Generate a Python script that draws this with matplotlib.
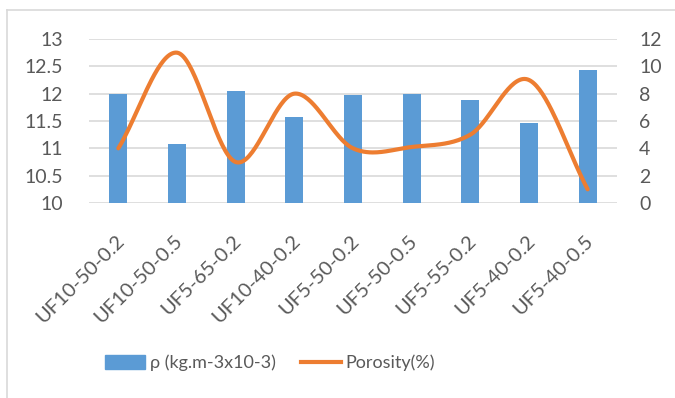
import numpy as np
import matplotlib.pyplot as plt
from matplotlib.lines import Line2D
from matplotlib.patches import Patch
from matplotlib.transforms import ScaledTranslation

plt.rcParams['font.family'] = ['Lato', 'DejaVu Sans']

# Data
samples = ['UF10-50-0.2', 'UF10-50-0.5', 'UF5-65-0.2', 'UF10-40-0.2', 'UF5-50-0.2',
           'UF5-50-0.5', 'UF5-55-0.2', 'UF5-40-0.2', 'UF5-40-0.5']
density = [12.0, 11.08, 12.05, 11.58, 11.97, 11.99, 11.88, 11.47, 12.44]
porosity = [4, 11, 3, 8, 4, 4.1, 5, 9, 1]

bar_color = '#5B9BD5'
line_color = '#ED7D31'
text_color = '#595959'
grid_color = '#D9D9D9'


def smooth_curve(x, y, n=40):
    # Catmull-Rom spline, close to what Excel's "smoothed line" draws
    x = np.asarray(x, float)
    y = np.asarray(y, float)
    px = np.concatenate([[2 * x[0] - x[1]], x, [2 * x[-1] - x[-2]]])
    py = np.concatenate([[2 * y[0] - y[1]], y, [2 * y[-1] - y[-2]]])
    xs, ys = [], []
    t = np.linspace(0, 1, n)
    for i in range(1, len(px) - 2):
        for p, out in ((px, xs), (py, ys)):
            p0, p1, p2, p3 = p[i - 1], p[i], p[i + 1], p[i + 2]
            out.append(0.5 * (2 * p1 + (-p0 + p2) * t
                              + (2 * p0 - 5 * p1 + 4 * p2 - p3) * t ** 2
                              + (-p0 + 3 * p1 - 3 * p2 + p3) * t ** 3))
    return np.concatenate(xs), np.concatenate(ys)


fig = plt.figure(figsize=(6.75, 3.98), dpi=100)

# chart frame (only top and left edges are visible in the original)
fig.add_artist(Line2D([7 / 675, 1], [1 - 10 / 398, 1 - 10 / 398], color=grid_color, lw=1.2,
                      transform=fig.transFigure))
fig.add_artist(Line2D([7 / 675, 7 / 675], [0, 1 - 10 / 398], color=grid_color, lw=1.2,
                      transform=fig.transFigure))

ax = fig.add_axes([89 / 675, 1 - 203 / 398, (617 - 89) / 675, (203 - 39) / 398])
x = np.arange(len(samples))
ax.bar(x, density, width=0.31, color=bar_color, zorder=2)
ax.set_ylim(10, 13)
ax.set_yticks(np.arange(10, 13.01, 0.5))
ax.set_yticklabels(['10', '10.5', '11', '11.5', '12', '12.5', '13'])
ax.set_xlim(-0.5, len(samples) - 0.5)
ax.set_xticks(x)
ax.set_xticklabels(samples, rotation=45, ha='right', va='center', rotation_mode='anchor')
ax.grid(axis='y', color=grid_color, lw=1.2, zorder=0)
ax.set_axisbelow(True)
for s in ax.spines.values():
    s.set_visible(False)
ax.tick_params(axis='y', length=0, labelsize=14, colors=text_color, pad=19)
ax.tick_params(axis='x', length=0, labelsize=14.5, colors=text_color, pad=25)
shift = ScaledTranslation(0.03, 0, fig.dpi_scale_trans)
for lbl in ax.get_xticklabels():
    lbl.set_transform(lbl.get_transform() + shift)

ax2 = ax.twinx()
sx, sy = smooth_curve(x, porosity)
ax2.plot(sx, sy, color=line_color, lw=3.0, solid_capstyle='round', zorder=3)
ax2.set_ylim(0, 12)
ax2.set_yticks(np.arange(0, 13, 2))
for s in ax2.spines.values():
    s.set_visible(False)
ax2.tick_params(length=0, labelsize=14, colors=text_color, pad=16)

handles = [Patch(color=bar_color, label='ρ (kg.m-3x10-3)'),
           Line2D([], [], color=line_color, lw=3.0, label='Porosity(%)')]
fig.legend(handles=handles, loc='center', bbox_to_anchor=(0.40, 1 - 363 / 398), ncol=2,
           frameon=False, fontsize=13, labelcolor=text_color, handlelength=2.2,
           handleheight=0.8, handletextpad=0.25, columnspacing=1.4)

fig.savefig('out.png', dpi=100)
